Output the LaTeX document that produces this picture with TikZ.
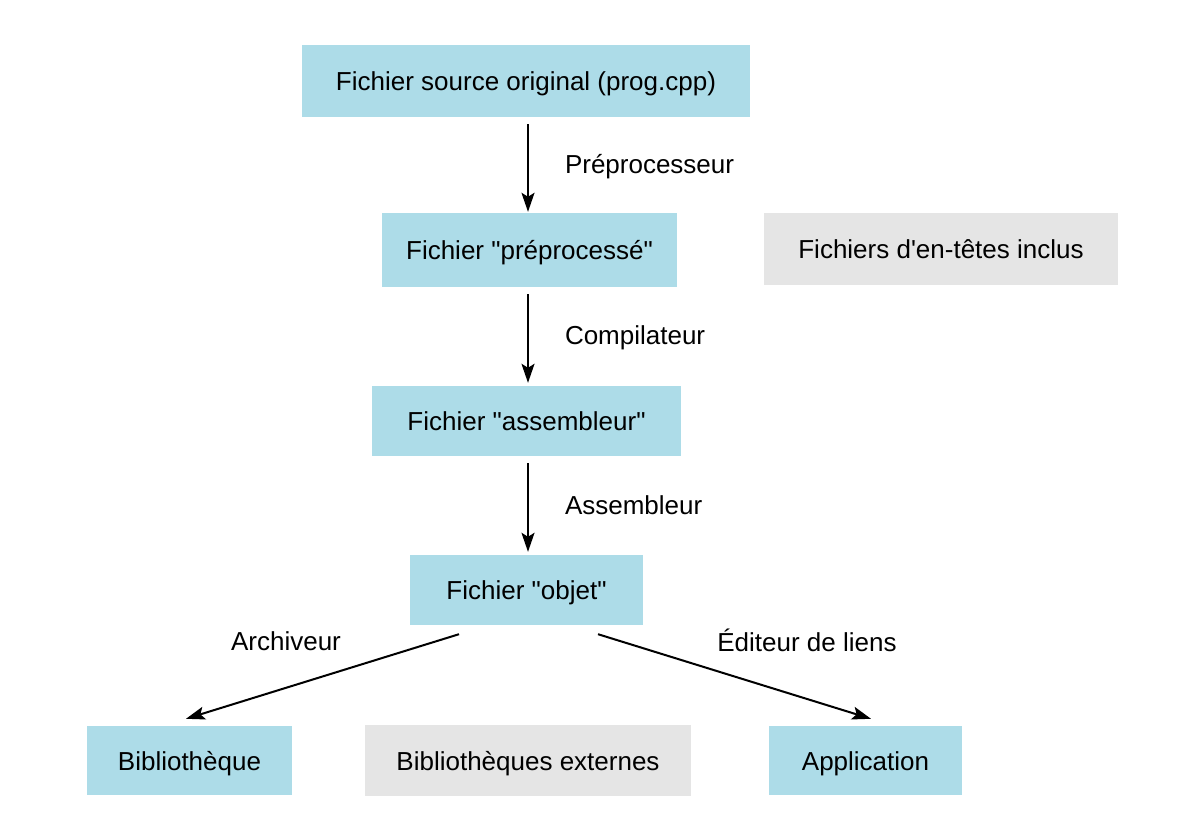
\documentclass[tikz,border=0pt]{standalone}
\usepackage{fontspec}
\setmainfont{Liberation Sans}
\usepackage{xcolor}
\usetikzlibrary{arrows.meta, positioning}

\definecolor{stepblue}{HTML}{ADDCE8}
\definecolor{extgray}{HTML}{E5E5E5}

\begin{document}
\begin{tikzpicture}[
  x=1pt, y=-1pt,
  box/.style={rectangle, fill=stepblue, inner sep=0pt, align=center, text height=19pt, text depth=0pt, font=\fontsize{26}{30}\selectfont},
  extbox/.style={box, fill=extgray},
  lbl/.style={font=\fontsize{26}{30}\selectfont, inner sep=0pt},
  arrow/.style={-{Stealth[length=19pt, width=13pt, inset=4pt]}, line width=2pt},
]
  \useasboundingbox (0,0) rectangle (1177,834);

  \node[box, minimum width=448pt, minimum height=72pt] (src) at (526,81) {Fichier source original (prog.cpp)};
  \node[box, minimum width=295pt, minimum height=74pt] (pre) at (529.5,250) {Fichier \textquotedbl préprocessé\textquotedbl};
  \node[extbox, minimum width=354pt, minimum height=72pt] (inc) at (941,249) {Fichiers d\textquotesingle en-têtes inclus};
  \node[box, minimum width=309pt, minimum height=70pt] (asm) at (526.5,421) {Fichier \textquotedbl assembleur\textquotedbl};
  \node[box, minimum width=233pt, minimum height=70pt] (obj) at (526.5,590) {Fichier \textquotedbl objet\textquotedbl};
  \node[box, minimum width=205pt, minimum height=69pt] (lib) at (189.5,760.5) {Bibliothèque};
  \node[extbox, minimum width=326pt, minimum height=71pt] (ext) at (528,760.5) {Bibliothèques externes};
  \node[box, minimum width=193pt, minimum height=69pt] (app) at (865.5,760.5) {Application};

  % chaine de compilation
  \draw[arrow, shorten <=7pt, shorten >=1pt] ([xshift=2pt]src.south) -- node[lbl, anchor=west, xshift=36pt, yshift=-2pt]{Préprocesseur} ([xshift=2pt]src.south |- pre.north);
  \draw[arrow, shorten <=7pt, shorten >=3pt] ([xshift=-1.5pt]pre.south) -- node[lbl, anchor=west, xshift=36pt, yshift=-1pt]{Compilateur} ([xshift=-1.5pt]pre.south |- asm.north);
  \draw[arrow, shorten <=7pt, shorten >=3pt] ([xshift=1.5pt]asm.south) -- node[lbl, anchor=west, xshift=36pt]{Assembleur} ([xshift=1.5pt]asm.south |- obj.north);

  \draw[arrow] ([shift={(-67.5,9)}]obj.south) -- ([shift={(-3.5,-7)}]lib.north);
  \draw[arrow] ([shift={(71.5,9)}]obj.south) -- ([shift={(5.5,-7)}]app.north);

  \node[lbl] (arch) at (286,641) {Archiveur};
  \node[lbl] (edit) at (807,640.5) {Éditeur de liens};
\end{tikzpicture}
\end{document}
